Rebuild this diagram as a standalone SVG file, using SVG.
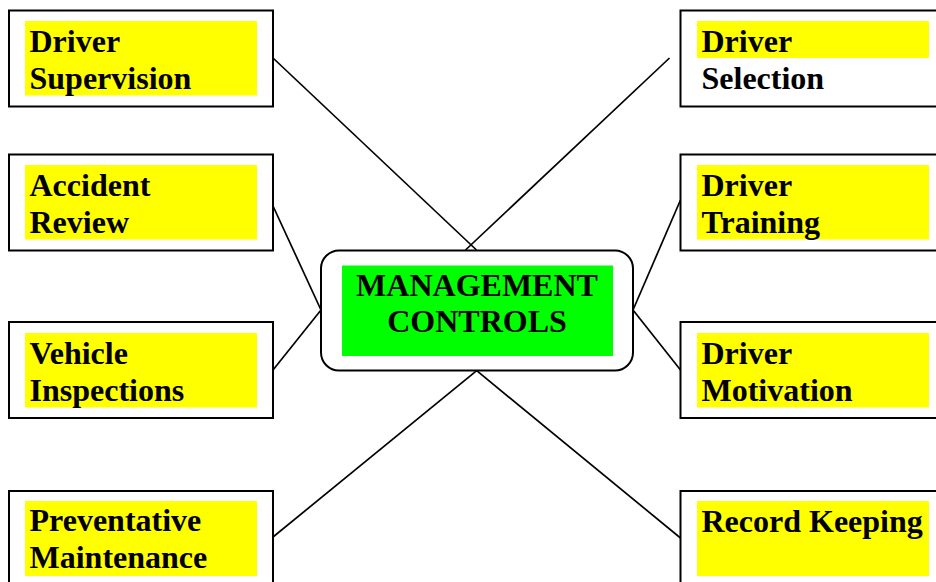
<svg xmlns="http://www.w3.org/2000/svg" width="936" height="582" viewBox="0 0 936 582">
<style>
.box{fill:#fff;stroke:#000;stroke-width:2}
.hl{fill:#ffff00}
.t{font-family:"Liberation Serif","Times New Roman",serif;font-weight:bold;font-size:32px;fill:#000}
.c{stroke:#000;stroke-width:1.7;fill:none}
</style>
<rect width="936" height="582" fill="#fff"/>
<g id="connectors">
<line class="c" x1="273" y1="58" x2="476.5" y2="250"/>
<line class="c" x1="669.5" y1="58" x2="465.5" y2="250"/>
<line class="c" x1="273" y1="206" x2="321" y2="310"/>
<line class="c" x1="273" y1="370" x2="321" y2="310"/>
<line class="c" x1="680.5" y1="200" x2="633" y2="310"/>
<line class="c" x1="680.5" y1="370" x2="633" y2="310"/>
<line class="c" x1="273" y1="537" x2="476.7" y2="370.7"/>
<line class="c" x1="680.5" y1="538" x2="476.7" y2="370.7"/>
</g>
<g id="driver-supervision">
<rect class="box" x="9" y="10.5" width="264" height="96"/>
<rect class="hl" x="25" y="21" width="232" height="74.5"/>
<text class="t" x="29.5" y="52">Driver</text>
<text class="t" x="29.5" y="89">Supervision</text>
</g>
<g id="accident-review">
<rect class="box" x="9" y="154.5" width="264" height="96"/>
<rect class="hl" x="25" y="165" width="232" height="74.5"/>
<text class="t" x="29.5" y="196">Accident</text>
<text class="t" x="29.5" y="233">Review</text>
</g>
<g id="vehicle-inspections">
<rect class="box" x="9" y="322" width="264" height="96"/>
<rect class="hl" x="25" y="333" width="232" height="74.5"/>
<text class="t" x="29.5" y="363.5">Vehicle</text>
<text class="t" x="29.5" y="400.5">Inspections</text>
</g>
<g id="preventative-maintenance">
<rect class="box" x="9" y="491" width="264" height="100"/>
<rect class="hl" x="25" y="501" width="232" height="75"/>
<text class="t" x="29.5" y="531">Preventative</text>
<text class="t" x="29.5" y="568">Maintenance</text>
</g>
<g id="driver-selection">
<rect class="box" x="680.5" y="10.5" width="264" height="96"/>
<rect class="hl" x="697" y="21" width="232" height="37"/>
<text class="t" x="701.5" y="52">Driver</text>
<text class="t" x="701.5" y="89">Selection</text>
</g>
<g id="driver-training">
<rect class="box" x="680.5" y="154.5" width="264" height="96"/>
<rect class="hl" x="697" y="165" width="232" height="74.5"/>
<text class="t" x="701.5" y="196">Driver</text>
<text class="t" x="701.5" y="233">Training</text>
</g>
<g id="driver-motivation">
<rect class="box" x="680.5" y="322" width="264" height="96"/>
<rect class="hl" x="697" y="333" width="232" height="74.5"/>
<text class="t" x="701.5" y="363.5">Driver</text>
<text class="t" x="701.5" y="400.5">Motivation</text>
</g>
<g id="record-keeping">
<rect class="box" x="680.5" y="491" width="264" height="100"/>
<rect class="hl" x="697" y="501" width="232" height="75"/>
<text class="t" x="701.5" y="532">Record Keeping</text>
</g>
<g id="management-controls">
<rect class="box" x="321" y="250.5" width="312" height="120" rx="18" ry="18"/>
<rect x="342" y="265.5" width="271" height="90.5" fill="#00ff00"/>
<text class="t" x="477" y="295.5" text-anchor="middle">MANAGEMENT</text>
<text class="t" x="477" y="332" text-anchor="middle">CONTROLS</text>
</g>
</svg>
